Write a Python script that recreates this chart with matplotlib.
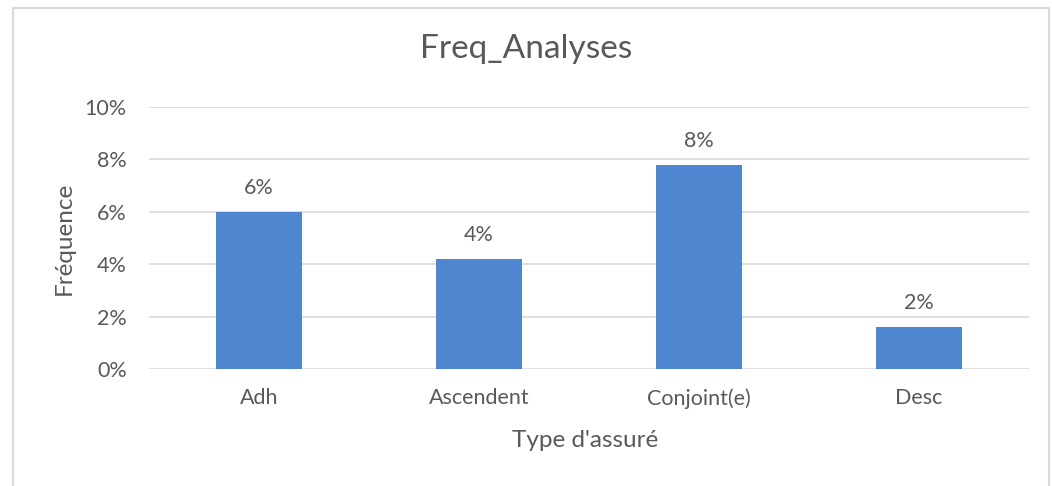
import matplotlib
matplotlib.use("Agg")
import matplotlib.pyplot as plt
from matplotlib.patches import Rectangle
from matplotlib.ticker import PercentFormatter

# data
categories = ["Adh", "Ascendent", "Conjoint(e)", "Desc"]
freq = [0.060, 0.042, 0.078, 0.016]
y_ticks = [0, 0.02, 0.04, 0.06, 0.08, 0.10]

bar_color = "#4e86d0"
text_color = "#595959"
grid_color = "#d9d9d9"

plt.rcParams["font.family"] = ["Lato", "DejaVu Sans"]

fig = plt.figure(figsize=(10.52, 4.86), dpi=100)
ax = fig.add_axes([0.1416, 0.2407, 0.8364, 0.5391])

x = range(len(categories))
ax.bar(x, freq, width=0.39, color=bar_color, zorder=3)

# data labels, rounded like the original
for xi, v in zip(x, freq):
    ax.annotate(f"{v*100:.0f}%", (xi, v), xytext=(0, 13), textcoords="offset points",
                ha="center", va="baseline", fontsize=15.5, color=text_color)

ax.set_xlim(-0.5, len(categories) - 0.5)
ax.set_ylim(0, 0.10)
ax.set_yticks(y_ticks)
ax.yaxis.set_major_formatter(PercentFormatter(1.0, decimals=0))
ax.set_xticks(list(x))
ax.set_xticklabels(categories)
ax.tick_params(axis="both", length=0, labelsize=15.5, labelcolor=text_color)
ax.tick_params(axis="y", pad=16)
ax.tick_params(axis="x", pad=14)

ax.grid(axis="y", color=grid_color, linewidth=1.2, zorder=0)
for s in ax.spines.values():
    s.set_visible(False)

fig.text(0.5566, 0.080, "Type d'assuré", ha="center", va="baseline",
         fontsize=17.5, color=text_color)
fig.text(0.061, 0.51, "Fréquence", rotation=90, ha="center", va="center",
         fontsize=17.5, color=text_color)
fig.text(0.5, 0.88, "Freq_Analyses", ha="center", va="baseline",
         fontsize=24, color=text_color)

# light chart border
fig.patches.append(Rectangle((0.012, -0.02), 0.985, 1.003, transform=fig.transFigure,
                             fill=False, edgecolor="#d9d9d9", linewidth=1.5))

fig.savefig("out.png", dpi=100, facecolor="white")
